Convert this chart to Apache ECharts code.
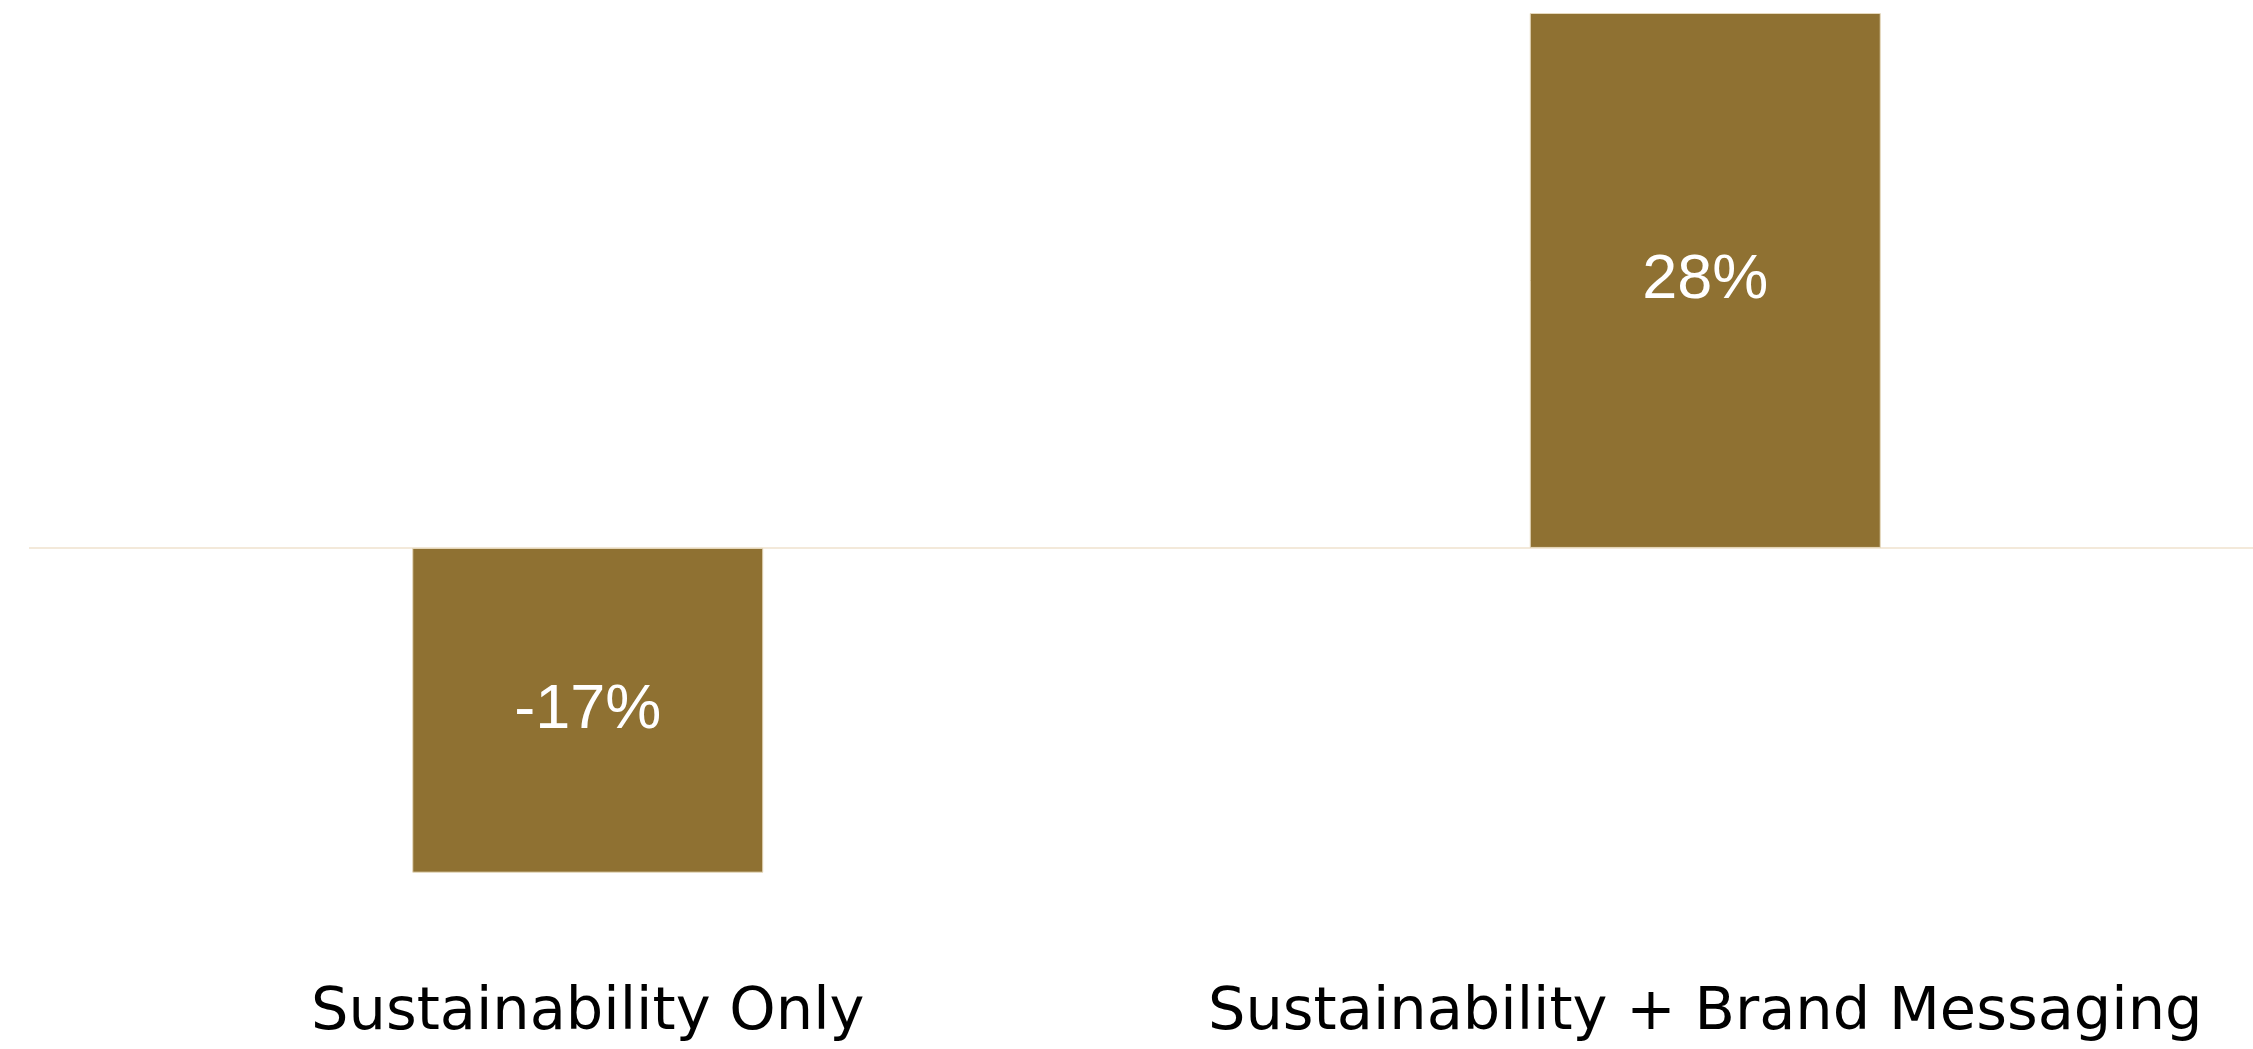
<!DOCTYPE html>
<html>
<head>
<meta charset="utf-8">
<script src="https://cdn.jsdelivr.net/npm/echarts@6/dist/echarts.min.js"></script>
<style>
html,body{margin:0;padding:0;background:#fff;overflow:hidden;}
#chart{width:2264px;height:1049px;}
</style>
</head>
<body>
<div id="chart"></div>
<script>
const categories = ['Sustainability Only', 'Sustainability + Brand Messaging'];
const values = [-17, 28];

const chart = echarts.init(document.getElementById('chart'));
chart.setOption({
  backgroundColor: '#ffffff',
  animation: false,
  grid: { left: 29, right: 0, top: 13, bottom: 176.3, containLabel: false },
  xAxis: {
    type: 'category',
    data: categories,
    axisLine: { show: false },
    axisTick: { show: false },
    axisLabel: {
      margin: 111,
      interval: 0,
      fontFamily: "'DejaVu Sans',sans-serif",
      fontSize: 59,
      color: '#000000'
    }
  },
  yAxis: {
    type: 'value',
    min: -17,
    max: 28,
    show: false,
    splitLine: { show: false }
  },
  series: [{
    type: 'bar',
    data: values,
    barWidth: 351,
    itemStyle: { color: '#8f7132', borderColor: '#e6d9bd', borderWidth: 1 },
    label: {
      show: true,
      position: 'inside',
      formatter: function (p) { return p.value + '%'; },
      color: '#ffffff',
      fontSize: 63,
      fontFamily: "'Liberation Sans',Arial,sans-serif"
    },
    markLine: {
      silent: true,
      symbol: 'none',
      label: { show: false },
      lineStyle: { color: '#f3e9da', width: 2, type: 'solid' },
      data: [{ yAxis: 0 }],
      z: 1
    }
  }]
});
</script>
</body>
</html>
